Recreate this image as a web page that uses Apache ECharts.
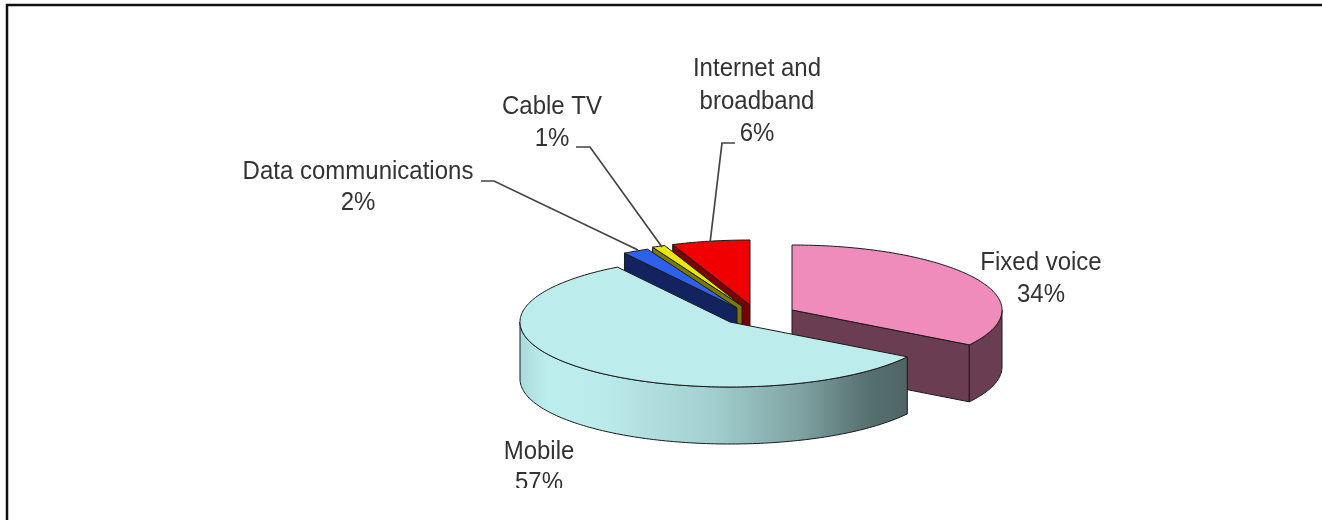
<!DOCTYPE html>
<html><head><meta charset="utf-8">
<script src="https://cdn.jsdelivr.net/npm/echarts@6/dist/echarts.min.js"></script>
<style>html,body{margin:0;padding:0;background:#fff}#c{width:1322px;height:520px}</style></head>
<body><div id="c"></div>
<script>
// ---- data ----
const categories = ['Fixed voice', 'Mobile', 'Data communications', 'Cable TV', 'Internet and broadband'];
const values = [34, 57, 2, 1, 6];
const labelLines = [['Fixed voice', '34%'], ['Mobile', '57%'], ['Data communications', '2%'], ['Cable TV', '1%'], ['Internet and', 'broadband', '6%']];
// ---- layout and style ----
const drawOrder = [0, 4, 3, 2, 1];
const RX = 210, RY = 65, DEPTH = 57;
const sliceCentres = [[792, 310], [730, 322], [737, 308], [742, 306], [750, 305]];
const topColours = ['#F08CBB', '#BCECEC', '#2E60EE', '#E8E800', '#F00000'];
const sideColours = ['#6B3D52', '#BCECEC', '#13235F', '#7A7A00', '#7A0000'];
const labelAnchors = [[1041, 263], [539, 452], [358, 172], [552, 107], [757, 69]];
const labelLeading = [32, 31, 31, 32, 32.5];
const leaders = [null, null, [[481, 181], [494, 181], [638, 250]], [[576, 147], [590, 147], [662, 247]], [[735, 143], [722, 143], [710, 243]]];
const FONT = '24px "Liberation Sans", Arial, sans-serif';
const CLIP_Y = 488;

const total = values.reduce((a, b) => a + b, 0);
const TAU = 2 * Math.PI;
const starts = []; let acc = 0;
values.forEach(v => { starts.push(acc / total * TAU); acc += v; });
const rim = (c, a, d) => [c[0] + RX * Math.sin(a), c[1] - RY * Math.cos(a) + (d || 0)];
const arcPts = (c, a0, a1, d) => {
  const out = [], n = Math.max(2, Math.ceil((a1 - a0) / 0.02));
  for (let k = 0; k <= n; k++) out.push(rim(c, a0 + (a1 - a0) * k / n, d));
  return out;
};
const OUT = { stroke: '#1a1a1a', lineWidth: 1, lineJoin: 'round' };
function poly(points, fill, z2) { return { type: 'polygon', shape: { points }, style: Object.assign({ fill }, OUT), z2 }; }

function renderSlice(params) {
  const i = drawOrder[params.dataIndex];
  const c = sliceCentres[i], a0 = starts[i], a1 = a0 + values[i] / total * TAU;
  const apexD = [c[0], c[1] + DEPTH];
  const kids = [];
  const base = params.dataIndex * 10;
  // a cut face shows only when it turns towards the viewer
  if (a0 > Math.PI) kids.push(poly([c, rim(c, a0), rim(c, a0, DEPTH), apexD], sideColours[i], base + 1));
  if (a1 < Math.PI) kids.push(poly([c, rim(c, a1), rim(c, a1, DEPTH), apexD], sideColours[i], base + 1));
  const v0 = Math.max(a0, Math.PI / 2), v1 = Math.min(a1, Math.PI * 1.5);
  if (v1 > v0) {
    const fill = i === 1 ? new echarts.graphic.LinearGradient(0, 0, 1, 0, [
      { offset: 0, color: '#A9D8D8' }, { offset: 0.07, color: '#BDEEEE' }, { offset: 0.22, color: '#BBEAEA' },
      { offset: 0.5, color: '#A2CECE' }, { offset: 0.72, color: '#7FA3A3' }, { offset: 0.9, color: '#566F6F' }, { offset: 1, color: '#4F6565' }
    ]) : sideColours[i];
    kids.push(poly(arcPts(c, v0, v1, 0).concat(arcPts(c, v0, v1, DEPTH).reverse()), fill, base + 2));
  }
  kids.push(poly([c].concat(arcPts(c, a0, a1, 0)), topColours[i], base + 3));
  return { type: 'group', children: kids };
}
function renderLabel(params) {
  const i = params.dataIndex, kids = [];
  labelLines[i].forEach((t, k) => {
    const y = labelAnchors[i][1] + k * labelLeading[i];
    kids.push({ type: 'text', z2: 200, x: labelAnchors[i][0], y, scaleY: 1.1,
      style: { text: t, x: 0, y: 0, align: 'center', verticalAlign: 'middle', font: FONT, fill: '#333' } });
  });
  if (leaders[i]) kids.push({ type: 'polyline', z2: 190, shape: { points: leaders[i] }, style: { stroke: '#444', lineWidth: 1.7, fill: 'none' } });
  return { type: 'group', children: kids };
}
const chart = echarts.init(document.getElementById('c'), null, { renderer: 'canvas' });
chart.setOption({
  animation: false, backgroundColor: '#fff',
  series: [
    { type: 'custom', coordinateSystem: 'none', silent: true, z: 2, data: drawOrder.map(i => values[i]), renderItem: renderSlice },
    { type: 'custom', coordinateSystem: 'none', silent: true, z: 3, data: categories, renderItem: renderLabel }
  ],
  graphic: [
    { type: 'rect', z: 50, zlevel: 1, silent: true, shape: { x: 300, y: CLIP_Y, width: 500, height: 32 }, style: { fill: '#fff' } },
    { type: 'polyline', z: 60, zlevel: 1, silent: true, shape: { points: [[7, 520], [7, 5], [1322, 5]] }, style: { stroke: '#111', lineWidth: 2.5, fill: 'none' } }
  ]
});
</script></body></html>
